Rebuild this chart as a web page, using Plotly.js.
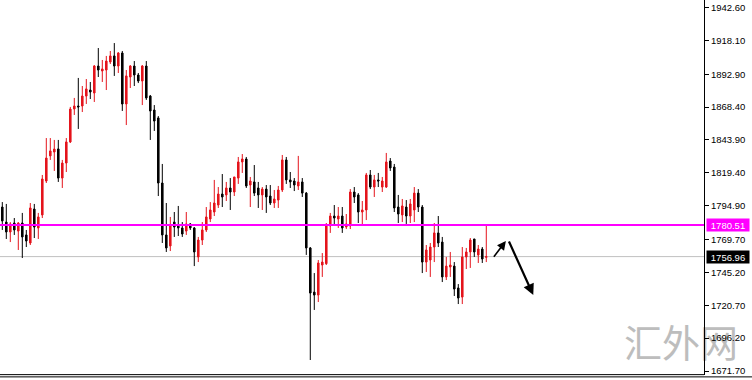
<!DOCTYPE html>
<html>
<head>
<meta charset="utf-8">
<script src="https://cdn.plot.ly/plotly-3.0.1.min.js"></script>
<style>html,body{margin:0;padding:0;background:#fff;}#chart{width:752px;height:380px;}</style>
</head>
<body>
<div id="chart"></div>
<script>
// ---- data ----
var openP = [1793.9,1782.7,1775.3,1782.0,1776.0,1782.0,1773.1,1767.1,1792.4,1778.3,
1788.0,1813.3,1832.0,1834.9,1837.2,1815.5,1826.7,1842.4,1867.0,1869.2,
1869.2,1876.6,1881.1,1878.9,1899.0,1895.3,1896.0,1902.0,1906.5,1899.0,
1908.7,1870.7,1890.8,1899.0,1892.3,1887.8,1899.0,1876.6,1866.2,1860.3,
1811.8,1773.1,1764.9,1782.7,1779.8,1778.3,1776.0,1781.3,1778.3,1756.7,
1769.3,1776.8,1785.0,1790.2,1795.4,1803.6,1802.9,1808.1,1805.1,1815.5,
1827.5,1829.7,1810.3,1812.6,1808.1,1802.9,1807.3,1802.1,1796.9,1799.1,
1806.6,1829.0,1814.1,1813.3,1809.6,1812.6,1804.3,1763.4,1730.5,1728.3,
1750.7,1751.7,1779.8,1787.2,1785.0,1787.2,1779.0,1779.8,1805.1,1802.9,
1790.2,1791.7,1817.8,1808.8,1814.1,1808.8,1808.8,1828.2,1823.7,1793.9,
1788.0,1793.9,1787.2,1791.7,1804.3,1793.9,1752.9,1754.4,1764.1,1774.6,
1767.8,1741.8,1749.2,1749.9,1733.6,1726.8,1756.7,1760.4,1770.1,1758.2,
1762.6,1756.4];
var highP = [1797.6,1796.2,1782.7,1785.7,1782.7,1789.5,1776.8,1796.9,1796.2,1789.5,
1817.8,1845.3,1845.3,1843.9,1843.9,1829.0,1845.3,1868.5,1875.2,1890.1,
1884.1,1889.3,1887.1,1899.7,1912.4,1903.5,1906.5,1910.2,1916.1,1909.4,
1910.2,1896.0,1899.7,1902.7,1893.8,1899.7,1902.7,1877.4,1869.9,1861.7,
1826.0,1796.9,1786.5,1790.2,1794.7,1782.7,1790.2,1782.0,1779.0,1771.6,
1782.7,1793.9,1797.6,1814.1,1808.8,1818.5,1812.6,1815.5,1816.3,1831.2,
1833.4,1831.2,1816.3,1825.2,1812.6,1808.8,1810.3,1810.3,1806.6,1809.6,
1832.7,1831.2,1820.0,1815.5,1832.0,1815.5,1805.1,1764.1,1744.7,1754.4,
1759.6,1782.0,1789.5,1795.4,1793.9,1793.9,1788.7,1807.3,1808.8,1804.3,
1798.4,1819.3,1821.5,1817.8,1819.3,1816.3,1834.2,1830.4,1826.0,1802.9,
1799.9,1799.1,1799.9,1808.8,1807.3,1795.4,1765.6,1767.1,1782.0,1787.2,
1771.6,1756.7,1760.4,1752.9,1736.5,1764.1,1763.4,1770.8,1770.1,1765.6,
1764.1,1780.5];
var lowP = [1776.8,1770.1,1767.8,1773.1,1761.9,1755.9,1764.1,1765.6,1770.8,1770.1,
1785.7,1811.8,1829.0,1820.8,1812.6,1808.1,1820.0,1841.6,1862.5,1852.1,
1864.7,1870.7,1874.4,1872.2,1890.8,1887.1,1881.1,1900.5,1891.6,1893.8,
1865.5,1855.0,1882.6,1884.1,1886.3,1869.9,1873.7,1843.9,1850.6,1802.1,
1767.1,1760.4,1761.1,1771.6,1772.3,1771.6,1773.1,1776.8,1749.9,1752.9,
1765.6,1775.3,1782.7,1787.2,1793.2,1793.9,1798.4,1791.7,1802.1,1811.1,
1819.3,1808.1,1793.9,1802.1,1793.2,1791.7,1789.5,1795.4,1793.2,1793.2,
1805.1,1811.1,1808.1,1805.8,1806.6,1801.4,1758.2,1679.9,1717.2,1723.1,
1741.8,1750.7,1774.6,1779.8,1778.3,1774.6,1777.5,1777.5,1796.9,1782.0,
1779.8,1784.2,1807.3,1801.4,1808.8,1805.1,1808.1,1820.8,1790.2,1782.0,
1782.7,1781.3,1782.0,1782.7,1790.2,1744.7,1745.5,1741.8,1752.9,1764.1,
1738.0,1739.5,1741.8,1727.6,1721.6,1721.6,1747.7,1748.5,1756.7,1752.2,
1752.2,1752.9];
var closeP = [1783.5,1775.3,1781.3,1776.8,1782.0,1771.6,1768.6,1793.2,1779.0,1786.5,
1814.8,1830.4,1835.7,1837.1,1815.5,1826.7,1842.4,1866.9,1869.2,1868.5,
1876.6,1881.9,1879.6,1899.0,1896.0,1896.8,1902.7,1906.5,1899.0,1908.7,
1870.7,1891.6,1899.0,1892.3,1887.8,1899.0,1875.2,1865.5,1858.0,1811.8,
1773.1,1763.4,1780.5,1779.0,1778.3,1773.8,1781.3,1778.3,1760.4,1769.3,
1776.8,1786.5,1791.7,1796.9,1803.6,1801.4,1808.1,1805.1,1816.3,1827.5,
1829.7,1809.6,1813.3,1804.3,1802.9,1807.3,1801.4,1796.9,1799.9,1806.6,
1829.0,1814.1,1812.6,1810.3,1812.6,1804.3,1763.4,1729.8,1728.3,1752.2,
1752.9,1780.5,1787.2,1785.7,1787.2,1778.3,1781.3,1805.1,1801.4,1790.2,
1791.7,1817.8,1808.8,1814.1,1813.3,1813.3,1827.5,1823.0,1793.2,1788.7,
1794.7,1787.2,1796.2,1804.3,1793.9,1752.9,1761.9,1764.1,1774.6,1767.1,
1741.8,1749.9,1750.7,1732.8,1726.1,1756.7,1760.4,1769.3,1760.4,1762.6,
1755.2,1756.96];
var priceTicks = [1942.60,1918.10,1892.90,1868.40,1843.90,1819.40,1794.90,1769.70,1745.20,1720.70,1696.20,1671.70];
var resistanceLevel = 1780.51;
var bidLevel = 1756.96;
var watermarkText = '汇外网';
var barIndex = openP.map(function(_, i){ return i; });

// ---- chart ----
var trace = {
  type: 'candlestick',
  x: barIndex, open: openP, high: highP, low: lowP, close: closeP,
  increasing: {line: {color: '#e4141c', width: 1}, fillcolor: '#e4141c'},
  decreasing: {line: {color: '#000000', width: 1}, fillcolor: '#000000'},
  whiskerwidth: 0,
  hoverinfo: 'skip'
};

var labelFont = {family: 'Liberation Sans, Arial, sans-serif', size: 9.5, color: '#ffffff'};

var layout = {
  width: 752, height: 380,
  margin: {l: 0, r: 48, t: 0, b: 5, pad: 0},
  paper_bgcolor: '#ffffff', plot_bgcolor: 'rgba(0,0,0,0)',
  showlegend: false,
  boxgap: 0.45,
  xaxis: {range: [-0.575, 175.43], visible: false, rangeslider: {visible: false}, fixedrange: true},
  yaxis: {
    side: 'right', range: [1668.72, 1948.19],
    tickvals: priceTicks,
    ticktext: priceTicks.map(function(v){ return v.toFixed(2); }),
    ticks: 'outside', ticklen: 4, tickwidth: 1, tickcolor: '#000',
    showline: true, linecolor: '#000', linewidth: 1,
    showgrid: false, zeroline: false,
    tickfont: {family: 'Liberation Sans, Arial, sans-serif', size: 9.5, color: '#000'},
    fixedrange: true
  },
  shapes: [
    // watermark (drawn beneath the axis labels, as in the reference)
    {type: 'rect', xref: 'paper', yref: 'paper', x0: 0.878, x1: 1.057, y0: 0.024, y1: 0.128,
     line: {width: 0}, fillcolor: 'rgba(0,0,0,0)', layer: 'below',
     label: {text: watermarkText, textposition: 'middle center',
             font: {family: 'Noto Sans CJK SC, sans-serif', size: 38, color: '#bdbdbd'}}},
    {type: 'line', xref: 'paper', x0: 0, x1: 1, yref: 'y', y0: bidLevel, y1: bidLevel,
     line: {color: '#c0c0c0', width: 1}, layer: 'below'},
    {type: 'line', xref: 'paper', x0: 0, x1: 1, yref: 'y', y0: resistanceLevel, y1: resistanceLevel,
     line: {color: '#ff00ff', width: 2}, layer: 'above'},
    {type: 'line', xref: 'paper', x0: 0, x1: 1, yref: 'paper', y0: 0.001, y1: 0.001,
     line: {color: '#000', width: 1}},
    {type: 'line', xref: 'paper', x0: 0, x1: 1.07, yref: 'paper', y0: -0.005, y1: -0.005,
     line: {color: '#000', width: 1}}
  ],
  annotations: [
    {xref: 'paper', x: 1.003, xanchor: 'left', yref: 'y', y: resistanceLevel, yanchor: 'middle',
     text: resistanceLevel.toFixed(2), showarrow: false, bgcolor: '#ff00ff', borderpad: 1,
     width: 40, height: 10, align: 'center', font: labelFont},
    {xref: 'paper', x: 1.003, xanchor: 'left', yref: 'y', y: bidLevel, yanchor: 'middle',
     text: bidLevel.toFixed(2), showarrow: false, bgcolor: '#000000', borderpad: 1,
     width: 40, height: 10, align: 'center', font: labelFont},
    {xref: 'x', yref: 'y', axref: 'x', ayref: 'y', x: 125.9, y: 1768.6, ax: 122.6, ay: 1755.7,
     text: '', showarrow: true, arrowhead: 2, arrowsize: 1.1, arrowwidth: 1.6, arrowcolor: '#000', standoff: 0},
    {xref: 'x', yref: 'y', axref: 'x', ayref: 'y', x: 132.75, y: 1728.3, ax: 126.5, ay: 1769.3,
     text: '', showarrow: true, arrowhead: 2, arrowsize: 1, arrowwidth: 2.2, arrowcolor: '#000', standoff: 0}
  ]
};

Plotly.newPlot('chart', [trace], layout, {staticPlot: true, displayModeBar: false});
</script>
</body>
</html>
